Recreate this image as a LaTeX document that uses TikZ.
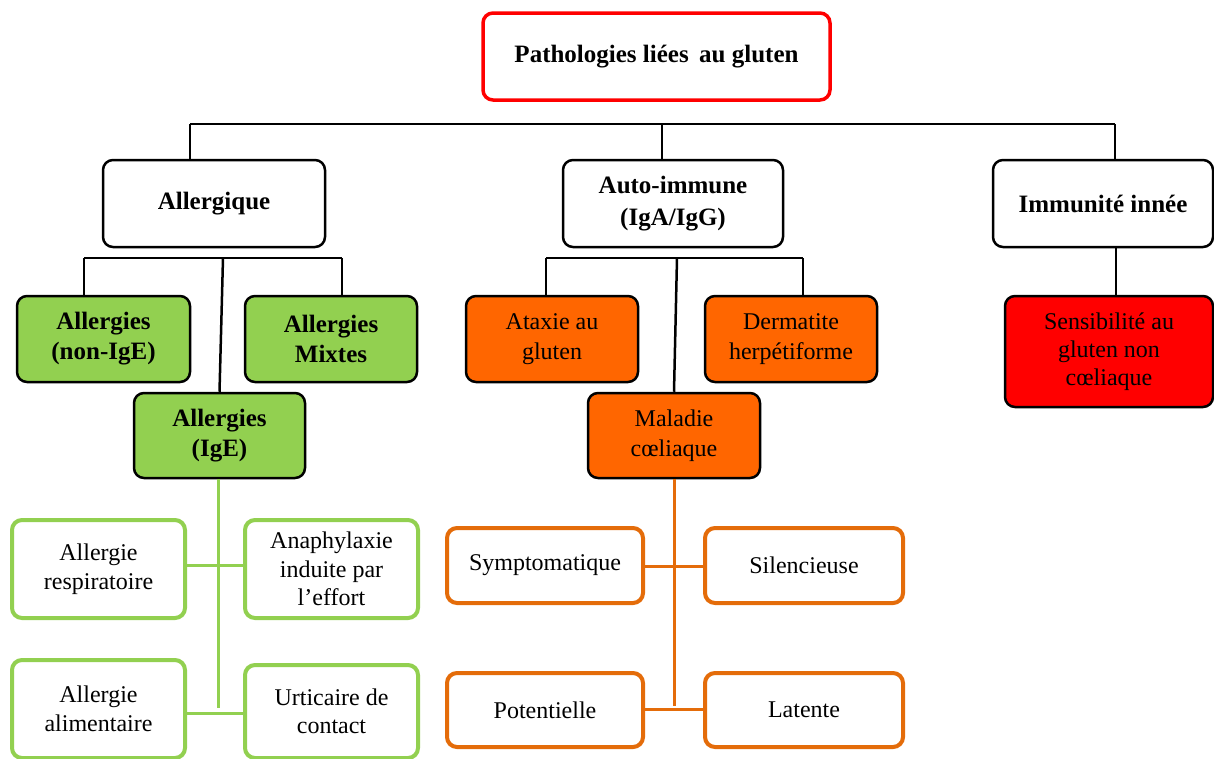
\documentclass[tikz,border=0pt]{standalone}
\usepackage{fontspec}
\setmainfont{Liberation Serif}
\definecolor{gfill}{HTML}{92D050}
\definecolor{ofill}{HTML}{FF6600}
\definecolor{rfill}{HTML}{FF0000}
\definecolor{oline}{HTML}{E46C0A}
\begin{document}
\begin{tikzpicture}[x=1pt,y=-1pt,
  base/.style={rounded corners=10pt, align=center, inner sep=0pt, font=\fontsize{24}{30}\selectfont},
  topbox/.style={base, draw=rfill, line width=3.5pt, fill=white, font=\fontsize{25}{30}\selectfont\bfseries},
  catbox/.style={base, draw=black, line width=2.5pt, fill=white, font=\fontsize{25}{32}\selectfont\bfseries},
  gbox/.style={base, draw=black, line width=2.5pt, fill=gfill, font=\fontsize{25}{30}\selectfont\bfseries},
  obox/.style={base, draw=black, line width=2.5pt, fill=ofill},
  rbox/.style={base, draw=black, line width=2.5pt, fill=rfill, font=\fontsize{24}{28}\selectfont},
  lgbox/.style={base, draw=gfill, line width=4pt, fill=white, font=\fontsize{24}{28.5}\selectfont},
  lobox/.style={base, draw=oline, line width=4pt, fill=white},
  conn/.style={draw=black, line width=2.5pt},
  gconn/.style={draw=gfill, line width=3pt},
  oconn/.style={draw=oline, line width=3pt}
]
\useasboundingbox (0,0) rectangle (1214,758);
\begin{scope}
\clip (0,0) rectangle (1214,758);
% top
\node[topbox, minimum width=347, minimum height=87] (top) at (656.5,56.5) {Pathologies liées\, au gluten};
% categories
\node[catbox, minimum width=222, minimum height=87] (allerg) at (214,203.5) {Allergique};
\node[catbox, minimum width=220, minimum height=87] (auto) at (673,203.5) {Auto-immune\\(IgA/IgG)};
\node[catbox, minimum width=220, minimum height=87] (immun) at (1103,203.5) {Immunité innée};
% allergic subtypes
\node[gbox, minimum width=173, minimum height=86] (nonige) at (103.5,339) {Allergies\\(non-IgE)};
\node[gbox, minimum width=172, minimum height=86] (mixtes) at (331,339) {Allergies\\Mixtes};
\node[gbox, minimum width=171, minimum height=85] (ige) at (219.5,435.5) {Allergies\\(IgE)};
% auto-immune subtypes
\node[obox, minimum width=172, minimum height=86] (ataxie) at (552,339) {Ataxie au\\gluten};
\node[obox, minimum width=172, minimum height=86] (derm) at (791,339) {Dermatite\\herpétiforme};
\node[obox, minimum width=172, minimum height=85] (mal) at (674,435.5) {Maladie\\cœliaque};
% innate
\node[rbox, minimum width=208, minimum height=111] (sens) at (1109,351.5) {Sensibilité au\\gluten non\\cœliaque};
% IgE forms
\node[lgbox, minimum width=173, minimum height=98] (resp) at (98.5,569) {Allergie\\respiratoire};
\node[lgbox, minimum width=173, minimum height=98] (anaph) at (331.5,569) {Anaphylaxie\\induite par\\l’effort};
\node[lgbox, minimum width=173, minimum height=98] (alim) at (98.5,709) {Allergie\\alimentaire};
\node[lgbox, minimum width=173, minimum height=93] (urtic) at (331.5,711.5) {Urticaire de\\contact};
% coeliac forms
\node[lobox, minimum width=196, minimum height=75] (sympt) at (545,565.5) {Symptomatique};
\node[lobox, minimum width=198, minimum height=75] (silenc) at (804,565.5) {Silencieuse};
\node[lobox, minimum width=196, minimum height=74] (potent) at (545,710) {Potentielle};
\node[lobox, minimum width=198, minimum height=74] (latente) at (804,710) {Latente};

% top-level bar
\coordinate (bL) at (190,124);
\coordinate (bM) at (662,124);
\coordinate (bR) at (1115,124);
\draw[conn] (bL) -- (bR);
\draw[conn] (bL) -- (bL |- allerg.north);
\draw[conn] (bM) -- (bM |- auto.north);
\draw[conn] (bR) -- (bR |- immun.north);
% allergic bar
\coordinate (aL) at (84,258);
\coordinate (aM) at (223,258);
\coordinate (aR) at (342,258);
\draw[conn] (aL) -- (aR);
\draw[conn] (aL) -- (aL |- nonige.north);
\draw[conn] (aR) -- (aR |- mixtes.north);
\draw[conn] (aM) -- (ige.north);
% auto-immune bar
\coordinate (uL) at (546,258);
\coordinate (uM) at (677,258);
\coordinate (uR) at (803,258);
\draw[conn] (uL) -- (uR);
\draw[conn] (uL) -- (uL |- ataxie.north);
\draw[conn] (uR) -- (uR |- derm.north);
\draw[conn] (uM) -- (mal.north);
% innate
\coordinate (s1) at (1116,0);
\draw[conn] (s1 |- immun.south) -- (s1 |- sens.north);
% IgE tree
\coordinate (gEnd) at (218,708);
\draw[gconn] (ige.south -| gEnd) -- (gEnd);
\draw[gconn] (resp.east |- 0,565) -- (anaph.west |- 0,565);
\draw[gconn] (alim.east |- 0,713) -- (urtic.west |- 0,713);
% coeliac tree
\coordinate (oEnd) at (674,706);
\draw[oconn] (mal.south -| oEnd) -- (oEnd);
\draw[oconn] (sympt.east |- 0,566) -- (silenc.west |- 0,566);
\draw[oconn] (potent.east |- 0,709) -- (latente.west |- 0,709);
\end{scope}
\end{tikzpicture}
\end{document}
